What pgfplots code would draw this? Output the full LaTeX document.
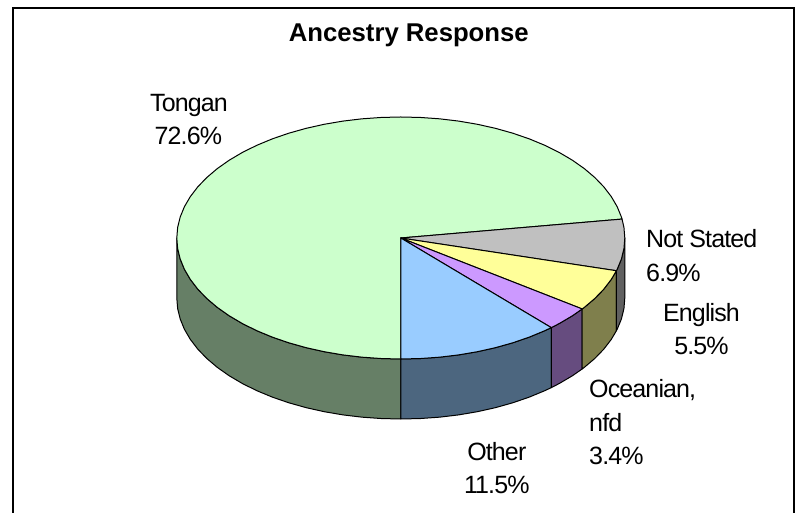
\documentclass[border=0pt]{standalone}
\usepackage{fontspec}
\usepackage{pgfplots}
\pgfplotsset{compat=1.18}
\setmainfont{Liberation Sans}[LetterSpace=-3.5]
\newfontfamily\titlefont{Liberation Sans}
\newcommand{\lab}{\fontsize{25}{33}\selectfont}
\definecolor{cTongan}{HTML}{CCFFCC}
\definecolor{sTongan}{HTML}{667F66}
\definecolor{cNot}{HTML}{C0C0C0}
\definecolor{sNot}{HTML}{606060}
\definecolor{cEng}{HTML}{FFFF99}
\definecolor{sEng}{HTML}{7F7F4C}
\definecolor{cOce}{HTML}{CC99FF}
\definecolor{sOce}{HTML}{664C7F}
\definecolor{cOth}{HTML}{99CCFF}
\definecolor{sOth}{HTML}{4C667F}
\begin{document}
\begin{tikzpicture}[x=1pt,y=1pt]
\useasboundingbox (0,0) rectangle (795pt,513pt);
\begin{axis}[
  at={(0,0)}, anchor=south west,
  scale only axis, width=795pt, height=513pt,
  xmin=-400.8, xmax=394.2, ymin=-275, ymax=238,
  hide axis, clip=false,
  every axis plot/.append style={line width=1pt, line join=round, mark=none},
]
% frame
\addplot[draw=black, line width=2.4pt, line join=miter] coordinates {(-387.8,-275) (-387.8,230) (393.2,230) (393.2,-275)};
% sides
\addplot[draw=black, fill=sTongan] coordinates {
(0,-121)(-19.52,-120.54)(-38.90,-119.16)(-57.98,-116.88)(-76.61,-113.70)(-94.67,-109.66)(-112,-104.79)(-128.48,-99.12)(-143.99,-92.69)(-158.39,-85.56)(-171.59,-77.78)(-183.49,-69.40)(-193.99,-60.5)(-203.01,-51.14)(-210.49,-41.38)(-216.37,-31.32)(-220.6,-21.01)(-223.15,-10.55)(-224,0)
(-224,-60)(-223.15,-70.55)(-220.6,-81.01)(-216.37,-91.32)(-210.49,-101.38)(-203.01,-111.14)(-193.99,-120.5)(-183.49,-129.40)(-171.59,-137.78)(-158.39,-145.56)(-143.99,-152.69)(-128.48,-159.12)(-112,-164.79)(-94.67,-169.66)(-76.61,-173.70)(-57.98,-176.88)(-38.90,-179.16)(-19.52,-180.54)(0,-181)
} -- cycle;
\addplot[draw=black, fill=sOth] coordinates {
(150.5,-89.64)(143.99,-92.69)(128.48,-99.12)(112,-104.79)(94.67,-109.66)(76.61,-113.70)(57.98,-116.88)(38.90,-119.16)(19.52,-120.54)(0,-121)
(0,-181)(19.52,-180.54)(38.90,-179.16)(57.98,-176.88)(76.61,-173.70)(94.67,-169.66)(112,-164.79)(128.48,-159.12)(143.99,-152.69)(150.5,-149.64)
} -- cycle;
\addplot[draw=black, fill=sOce] coordinates {
(181.4,-70.96)(171.59,-77.78)(158.39,-85.56)(150.5,-89.64)
(150.5,-149.64)(158.39,-145.56)(171.59,-137.78)(181.4,-130.96)
} -- cycle;
\addplot[draw=black, fill=sEng] coordinates {
(215.6,-32.74)(210.49,-41.38)(203.01,-51.14)(193.99,-60.5)(183.49,-69.40)(181.4,-70.96)
(181.4,-130.96)(183.49,-129.40)(193.99,-120.5)(203.01,-111.14)(210.49,-101.38)(215.6,-92.74)
} -- cycle;
\addplot[draw=black, fill=sNot] coordinates {
(224,0)(223.15,-10.55)(220.6,-21.01)(216.37,-31.32)(215.6,-32.74)
(215.6,-92.74)(216.37,-91.32)(220.6,-81.01)(223.15,-70.55)(224,-60)
} -- cycle;
% top faces
\addplot[draw=black, fill=cTongan] coordinates {
(0,0)(0,-121)(-19.52,-120.54)(-38.90,-119.16)(-57.98,-116.88)(-76.61,-113.70)(-94.67,-109.66)(-112,-104.79)(-128.48,-99.12)(-143.99,-92.69)(-158.39,-85.56)(-171.59,-77.78)(-183.49,-69.40)(-193.99,-60.5)(-203.01,-51.14)(-210.49,-41.38)(-216.37,-31.32)(-220.6,-21.01)(-223.15,-10.55)(-224,0)
(-223.15,10.55)(-220.6,21.01)(-216.37,31.32)(-210.49,41.38)(-203.01,51.14)(-193.99,60.5)(-183.49,69.40)(-171.59,77.78)(-158.39,85.56)(-143.99,92.69)(-128.48,99.12)(-112,104.79)(-94.67,109.66)(-76.61,113.70)(-57.98,116.88)(-38.90,119.16)(-19.52,120.54)(0,121)
(19.52,120.54)(38.90,119.16)(57.98,116.88)(76.61,113.70)(94.67,109.66)(112,104.79)(128.48,99.12)(143.99,92.69)(158.39,85.56)(171.59,77.78)(183.49,69.40)(193.99,60.5)(203.01,51.14)(210.49,41.38)(216.37,31.32)(220.6,21.01)(221.24,18.93)
} -- cycle;
\addplot[draw=black, fill=cNot] coordinates {
(0,0)(221.24,18.93)(223.15,10.55)(224,0)(223.15,-10.55)(220.6,-21.01)(216.37,-31.32)(215.6,-32.74)
} -- cycle;
\addplot[draw=black, fill=cEng] coordinates {
(0,0)(215.6,-32.74)(210.49,-41.38)(203.01,-51.14)(193.99,-60.5)(183.49,-69.40)(181.4,-70.96)
} -- cycle;
\addplot[draw=black, fill=cOce] coordinates {
(0,0)(181.4,-70.96)(171.59,-77.78)(158.39,-85.56)(150.5,-89.64)
} -- cycle;
\addplot[draw=black, fill=cOth] coordinates {
(0,0)(150.5,-89.64)(143.99,-92.69)(128.48,-99.12)(112,-104.79)(94.67,-109.66)(76.61,-113.70)(57.98,-116.88)(38.90,-119.16)(19.52,-120.54)(0,-121)
} -- cycle;
% text (axis cs = pixel x - 400.8, 238 - pixel y)
\node[anchor=base, inner sep=0pt] at (axis cs:8,196) {\titlefont\fontsize{25.7}{30}\selectfont\bfseries Ancestry Response};
\node[anchor=base, inner sep=0pt] at (axis cs:-211.8,126) {\lab Tongan};
\node[anchor=base, inner sep=0pt] at (axis cs:-212.5,93) {\lab 72.6\%};
\node[anchor=base west, inner sep=0pt] at (axis cs:245.2,-9.7) {\lab Not Stated};
\node[anchor=base west, inner sep=0pt] at (axis cs:245.2,-43.7) {\lab 6.9\%};
\node[anchor=base, inner sep=0pt] at (axis cs:300.7,-83.7) {\lab English};
\node[anchor=base, inner sep=0pt] at (axis cs:300.7,-117) {\lab 5.5\%};
\node[anchor=base west, inner sep=0pt] at (axis cs:188.2,-160) {\lab Oceanian,};
\node[anchor=base west, inner sep=0pt] at (axis cs:188.2,-193.7) {\lab nfd};
\node[anchor=base west, inner sep=0pt] at (axis cs:188.2,-227) {\lab 3.4\%};
\node[anchor=base, inner sep=0pt] at (axis cs:96,-222.7) {\lab Other};
\node[anchor=base, inner sep=0pt] at (axis cs:96,-256) {\lab 11.5\%};
\end{axis}
\end{tikzpicture}
\end{document}
